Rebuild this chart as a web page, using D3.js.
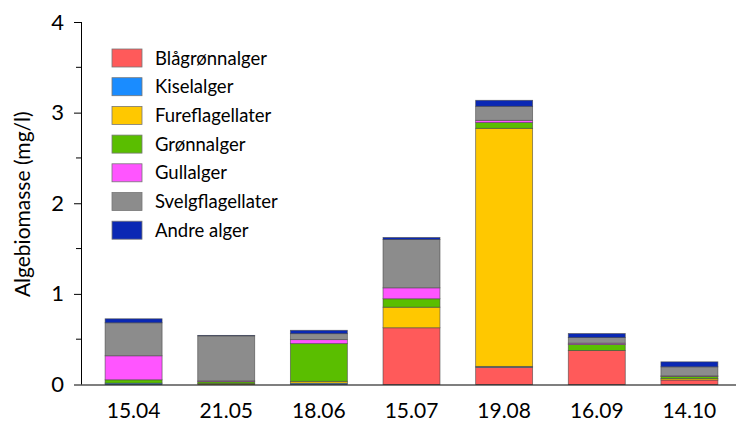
<!DOCTYPE html>
<html>
<head>
<meta charset="utf-8">
<script src="https://cdn.jsdelivr.net/npm/d3@7"></script>
<style>
  body { margin: 0; background: #fff; }
  text { font-family: Lato, "Open Sans", sans-serif; fill: #000; }
</style>
</head>
<body>
<svg id="chart" width="738" height="421"></svg>
<script>
const dates = ["15.04", "21.05", "18.06", "15.07", "19.08", "16.09", "14.10"];
const groups = ["Blågrønnalger", "Kiselalger", "Fureflagellater", "Grønnalger", "Gullalger", "Svelgflagellater", "Andre alger"];
const colors = ["#ff5a5a", "#1a8cff", "#ffc800", "#5abe00", "#ff55ff", "#8c8c8c", "#0a28b4"];

const blagronn = [0, 0, 0, 0.626, 0.19, 0.375, 0.05];
const kisel = [0.015, 0, 0.015, 0, 0.01, 0, 0];
const fure = [0, 0.01, 0.02, 0.227, 2.627, 0, 0.015];
const gronn = [0.037, 0.02, 0.416, 0.093, 0.063, 0.066, 0.025];
const gull = [0.265, 0.01, 0.044, 0.121, 0.025, 0.015, 0.005];
const svelg = [0.364, 0.497, 0.066, 0.533, 0.155, 0.062, 0.1];
const andre = [0.044, 0.005, 0.037, 0.022, 0.066, 0.044, 0.055];

const series = [blagronn, kisel, fure, gronn, gull, svelg, andre];
const rows = dates.map((d, i) => {
  const r = { date: d };
  groups.forEach((g, j) => (r[g] = series[j][i]));
  return r;
});

const svg = d3.select("#chart");
const axisLeft = 82, axisRight = 736;

const x = d3.scaleBand().domain(dates).range([87.5, 735.5]).paddingInner(0.385).paddingOuter(0.19);
const y = d3.scaleLinear().domain([0, 4]).range([384.5, 22]);
const color = d3.scaleOrdinal().domain(groups).range(colors);

const stacked = d3.stack().keys(groups)(rows);

svg.append("g")
  .selectAll("g")
  .data(stacked)
  .join("g")
  .attr("fill", (d) => color(d.key))
  .selectAll("rect")
  .data((d) => d)
  .join("rect")
  .attr("x", (d) => x(d.data.date))
  .attr("width", x.bandwidth())
  .attr("y", (d) => y(d[1]))
  .attr("height", (d) => y(d[0]) - y(d[1]))
  .attr("stroke", "#444")
  .attr("stroke-opacity", 0.7)
  .attr("stroke-width", 0.8);

// y axis with major and minor ticks
const yAxis = svg.append("g").attr("transform", `translate(${axisLeft},0)`);
yAxis.call(d3.axisLeft(y).tickValues([0, 1, 2, 3, 4]).tickSize(8).tickPadding(10).tickFormat(d3.format("d")));
yAxis.selectAll(".tick text").style("font-size", "22px");
yAxis.select(".domain").attr("d", `M-0.5,${y(4)}V${y(0)}`);
yAxis.selectAll("line.minor")
  .data([0.5, 1.5, 2.5, 3.5])
  .join("line")
  .attr("class", "minor")
  .attr("x1", -6)
  .attr("x2", 0)
  .attr("y1", (d) => y(d))
  .attr("y2", (d) => y(d))
  .attr("stroke", "#000");

// x axis
svg.append("line")
  .attr("x1", axisLeft)
  .attr("x2", axisRight)
  .attr("y1", 385)
  .attr("y2", 385)
  .attr("stroke", "#000")
  .attr("stroke-width", 1.2);

svg.append("g")
  .selectAll("text")
  .data(dates)
  .join("text")
  .attr("x", (d) => x(d) + x.bandwidth() / 2)
  .attr("y", 418)
  .attr("text-anchor", "middle")
  .style("font-size", "21px")
  .text((d) => d);

svg.append("text")
  .attr("transform", "rotate(-90)")
  .attr("x", -(y(0) + y(4)) / 2 - 1)
  .attr("y", 30)
  .attr("text-anchor", "middle")
  .style("font-size", "21px")
  .text("Algebiomasse (mg/l)");

// legend
const legend = svg.append("g")
  .selectAll("g")
  .data(groups)
  .join("g")
  .attr("transform", (d, i) => `translate(112,${49 + i * 28.7})`);

legend.append("rect")
  .attr("width", 30)
  .attr("height", 18)
  .attr("fill", color)
  .attr("stroke", "#777")
  .attr("stroke-width", 0.8);

legend.append("text")
  .attr("x", 43)
  .attr("y", 15.5)
  .style("font-size", "18.5px")
  .text((d) => d);
</script>
</body>
</html>
